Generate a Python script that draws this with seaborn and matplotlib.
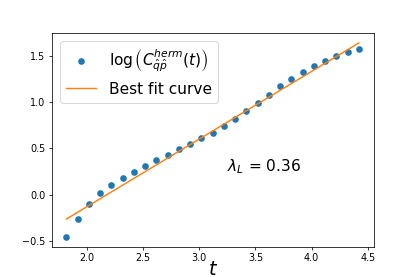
import numpy as np
import matplotlib
matplotlib.use("Agg")
import matplotlib.pyplot as plt
import seaborn as sns

# time points and log of the hermitian OTOC
t = [1.82, 1.92, 2.02, 2.12, 2.22, 2.32, 2.42, 2.52, 2.62, 2.72,
     2.82, 2.92, 3.02, 3.12, 3.22, 3.32, 3.42, 3.52, 3.62, 3.72,
     3.82, 3.92, 4.02, 4.12, 4.22, 4.32, 4.42]
log_c = [-0.453, -0.257, -0.103, 0.015, 0.104, 0.185, 0.251, 0.310, 0.372, 0.428,
         0.490, 0.546, 0.608, 0.663, 0.737, 0.818, 0.899, 0.991, 1.080, 1.168,
         1.249, 1.319, 1.389, 1.444, 1.496, 1.536, 1.569]

# best fit line
fit_slope = 0.73
fit_intercept = -1.589
lyapunov = 0.36

fit = [fit_slope * x + fit_intercept for x in t]

dpi = 69.2
fig = plt.figure(figsize=(415 / dpi, 277 / dpi), dpi=dpi)
ax = fig.add_subplot(111)

sns.scatterplot(x=t, y=log_c, ax=ax, color="tab:blue", s=48, linewidth=0,
                label=r"$\log\left(C_{\hat{q}\hat{p}}^{herm}(t)\right)$")
sns.lineplot(x=t, y=fit, ax=ax, color="tab:orange", linewidth=1.5,
             label="Best fit curve")

ax.text(3.25, 0.25, r"$\lambda_L$ = " + str(lyapunov), fontsize=16)
ax.set_xlabel(r"$t$", fontsize=20, labelpad=-3)
ax.set_xticks([2.0, 2.5, 3.0, 3.5, 4.0, 4.5])
ax.set_yticks([-0.5, 0.0, 0.5, 1.0, 1.5])
ax.legend(loc="upper left", fontsize=16)

fig.savefig("out.png", dpi=dpi)
